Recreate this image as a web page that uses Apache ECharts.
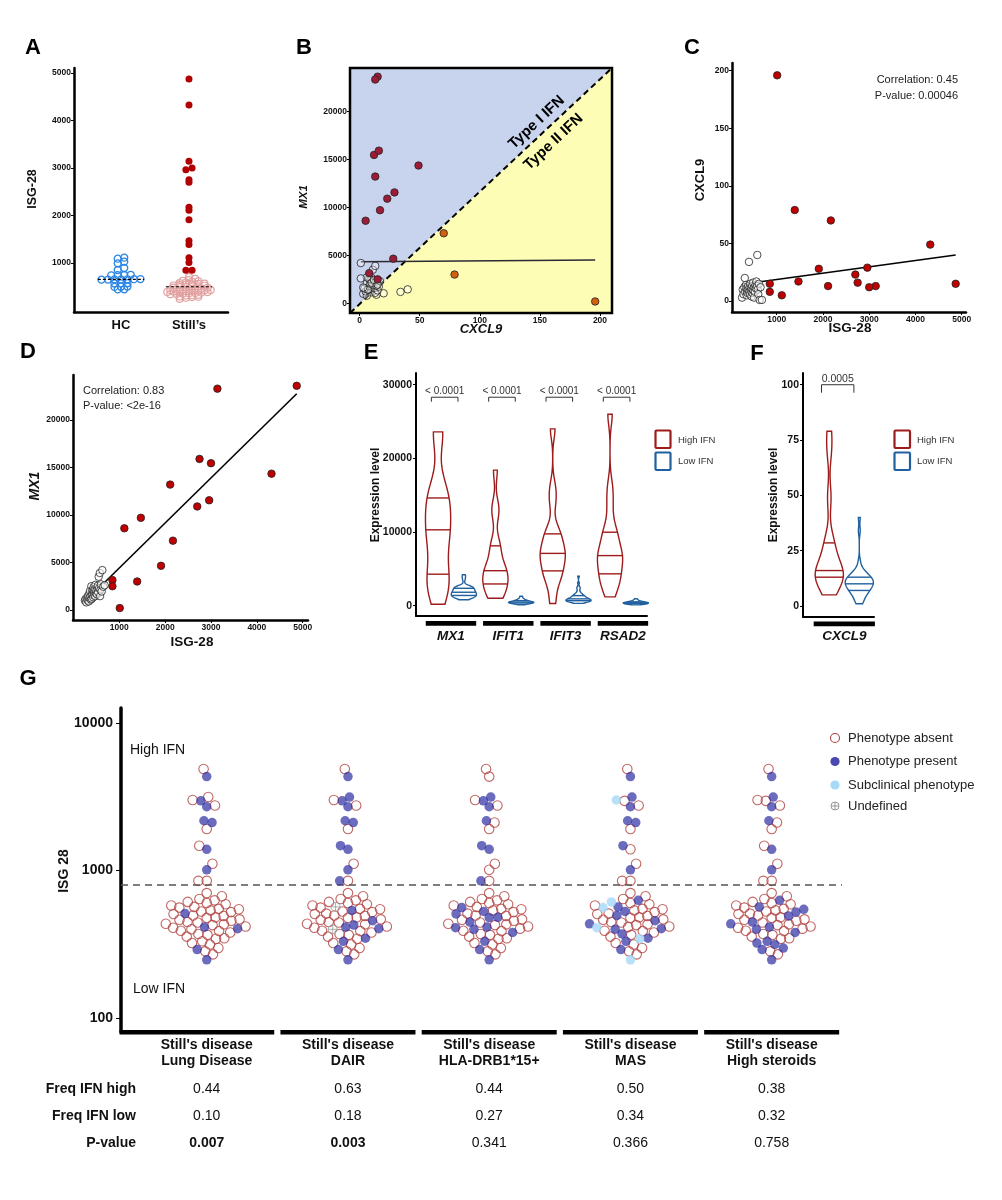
<!DOCTYPE html>
<html>
<head>
<meta charset="utf-8">
<title>ISG-28 figure</title>
<script src="https://cdn.jsdelivr.net/npm/echarts@6.0.0/dist/echarts.min.js"></script>
<style>
html,body{margin:0;padding:0;background:#ffffff;}
#chart{width:1002px;height:1200px;}
</style>
</head>
<body>
<div id="chart"></div>
<script>
// ======================= DATA =======================
// Panel A – ISG-28 score of healthy controls
const hcISG = [1112, 1091, 1028, 993, 895, 853, 752, 748, 745, 741, 662, 660, 658, 656, 655, 652, 650, 575, 572, 570, 505, 502, 498, 448, 445];
// Still's disease, high-IFN patients (ISG-28 with matching MX1 / CXCL9 expression)
const highISG   = [4870, 4320, 3140, 3000, 2960, 2750, 2700, 2170, 2110, 1910, 1470, 1390, 1110, 1010, 850, 850];
const highMX1   = [23600, 14350, 23300, 15450, 11550, 15900, 10900, 7300, 13200, 4650, 9700, 3000, 8600, 200, 3150, 2500];
const highCXCL9 = [15, 49, 13, 12, 29, 16, 23, 70, 13, 28, 17, 79, 5, 196, 8, 15];
const highIFIT1 = [1000, 1200, 2000, 2800, 3000, 3300, 4200, 4700, 4800, 5200, 6500, 8000, 8500, 12500, 13500, 18400];
const highIFIT3 = [300, 2500, 4000, 4500, 4800, 6000, 6800, 7000, 7200, 8000, 9300, 9500, 10500, 14000, 16000, 24000];
const highRSAD2 = [1200, 2500, 3500, 3800, 4500, 5500, 6500, 6700, 6900, 7500, 9000, 9800, 10500, 13500, 16000, 26000];
// Still's disease, low-IFN patients: ISG-28 score (panels A and G)
const lowISG = [248, 270, 283, 291, 298, 315, 322, 331, 344, 347, 356, 366, 371, 380, 388, 390, 399, 403, 409, 413,
                417, 426, 431, 435, 444, 447, 456, 463, 466, 478, 481, 492, 495, 507, 510, 522, 527, 536, 545, 549,
                560, 566, 579, 590, 602, 612, 627, 640, 668, 702];
// Low-IFN patients with gene expression (panels B-F)
const pcrLowISG   = [250, 265, 280, 300, 310, 320, 335, 345, 350, 360, 370, 380, 390, 400, 405, 415, 420, 430, 440, 450,
                     455, 465, 475, 480, 490, 500, 510, 520, 530, 540, 550, 560, 575, 580, 590, 600, 615, 630, 650, 680];
const pcrLowMX1   = [1000, 1150, 800, 1300, 1050, 1500, 900, 1700, 1250, 2000, 1400, 1100, 2500, 1200, 1800, 1600, 2100, 1350, 2400, 1900,
                     1550, 2200, 1450, 2650, 1750, 2050, 1650, 2350, 2550, 1850, 3500, 2300, 3900, 1460, 2150, 2700, 1950, 4200, 2450, 2600];
const pcrLowCXCL9 = [3, 10, 6, 12, 20, 8, 14, 11, 5, 9, 7, 13, 10, 34, 8, 12, 6, 15, 9, 11,
                     4, 13, 7, 10, 16, 9, 3, 12, 8, 14, 11, 17, 13, 40, 10, 6, 15, 1, 12, 1];
const pcrLowIFIT1 = [130, 205, 188, 262, 238, 301, 287, 326, 352, 314, 368, 402, 379, 421, 436, 409, 462, 478, 451, 503,
                     521, 489, 538, 566, 529, 602, 577, 618, 655, 702, 683, 748, 805, 724, 866, 947, 903, 1052, 1176, 1290];
const pcrLowIFIT3 = [318, 452, 401, 523, 478, 561, 604, 583, 648, 702, 617, 721, 684, 763, 798, 741, 853, 902, 818, 951,
                     1004, 877, 1052, 1103, 978, 1198, 1147, 1302, 1251, 1398, 1503, 1352, 1648, 1802, 1597, 2103, 2497, 2402, 3098, 4010];
const pcrLowRSAD2 = [108, 152, 183, 204, 171, 232, 251, 219, 268, 293, 262, 311, 298, 332, 351, 322, 368, 359, 392, 401,
                     383, 418, 441, 409, 462, 479, 452, 503, 518, 488, 553, 579, 602, 561, 641, 678, 722, 781, 852, 948];
// Regression lines and statistics
const fitB = {intercept: 4340, slope: 0.92};
const fitC = {intercept: 13.2, slope: 0.0055};
const fitD = {intercept: -320, slope: 4.74};
const statsC = ['Correlation: 0.45', 'P-value: 0.00046'];
const statsD = ['Correlation: 0.83', 'P-value: <2e-16'];
// Panel E / F
const genesE = ['MX1', 'IFIT1', 'IFIT3', 'RSAD2'];
const pLabelsE = ['< 0.0001', '< 0.0001', '< 0.0001', '< 0.0001'];
const genesF = ['CXCL9'];
const pLabelsF = ['0.0005'];
const groupNames = ['High IFN', 'Low IFN'];
// Panel G
const ifnThreshold = 800;
const gCats = ["Still's disease\nLung Disease", "Still's disease\nDAIR", "Still's disease\nHLA-DRB1*15+", "Still's disease\nMAS", "Still's disease\nHigh steroids"];
const gHighPresent = [[1,4,6,7,8,11,13], [1,2,4,6,7,8,10,11,13,15], [2,4,6,7,10,11,15], [1,2,6,7,8,10,13], [1,2,6,7,11,13]];
const gHighSub     = [[], [], [], [3], []];
const gLowPresent  = [[0,3,17,19,34], [0,3,7,9,17,19,21,26,37], [0,3,7,13,16,18,19,25,29,30,33,36,40],
                      [3,7,9,12,16,17,23,26,32,36,41,46], [0,3,4,5,6,7,13,16,19,23,25,31,35,38,41,46]];
const gLowSub      = [[], [], [], [0,8,18,40,45], []];
const gLowUndef    = [[], [16,41], [], [], []];
const phenoNames = ['Phenotype absent', 'Phenotype present', 'Subclinical phenotype', 'Undefined'];
const freqHigh = ['0.44', '0.63', '0.44', '0.50', '0.38'];
const freqLow  = ['0.10', '0.18', '0.27', '0.34', '0.32'];
const pValues  = ['0.007', '0.003', '0.341', '0.366', '0.758'];
const tableRows = ['Freq IFN high', 'Freq IFN low', 'P-value'];

// ======================= STYLE / LAYOUT =======================
const FONT = "'Liberation Sans', Arial, Helvetica, sans-serif";
const C_HC = '#2b86e6', C_PINK = '#e2a1a1', C_DRED = '#b00000', C_RED = '#c00000';
const C_BRED = '#9c1c37', C_BORANGE = '#d1600f', C_BLUEBG = '#c8d3ed', C_YELBG = '#fdfdb6';
const C_VHIGH = '#9e1b1b', C_VLOW = '#20609f';
const C_ABS = '#b0413e', C_PRES = 'rgba(40,40,160,0.85)', C_SUB = '#a6d9f7', C_UND = '#999999';
const bX = [-8, 210], bY = [-1000, 24500];
const gYMin = Math.log10(80.4), gYMax = Math.log10(12600);

// ======================= HELPERS =======================
function sortNum(a) { return a.slice().sort((x, y) => x - y); }
function quantile(s, p) { const h = (s.length - 1) * p, lo = Math.floor(h), hi = Math.ceil(h); return s[lo] + (h - lo) * (s[hi] - s[lo]); }
function median(a) { return quantile(sortNum(a), 0.5); }
function sdev(a) { const m = a.reduce((s, v) => s + v, 0) / a.length; return Math.sqrt(a.reduce((s, v) => s + (v - m) * (v - m), 0) / (a.length - 1)); }
function bwNrd0(a) {
  const s = sortNum(a); const iqr = quantile(s, 0.75) - quantile(s, 0.25);
  let lo = Math.min(sdev(a), iqr / 1.34); if (!(lo > 0)) lo = sdev(a) || 1;
  return 0.9 * lo * Math.pow(a.length, -0.2);
}
function violinShape(vals, adjust, color) {
  const s = sortNum(vals), bw = bwNrd0(vals) * adjust, n = 90, lo = s[0], hi = s[s.length - 1];
  const ys = [], ds = [];
  for (let k = 0; k < n; k++) {
    const y = lo + (hi - lo) * k / (n - 1); let d = 0;
    s.forEach(v => { const z = (y - v) / bw; d += Math.exp(-0.5 * z * z); });
    ys.push(y); ds.push(d);
  }
  const mx = Math.max.apply(null, ds); const ws = ds.map(d => d / mx);
  const qs = [0.25, 0.5, 0.75].map(p => {
    const y = quantile(s, p); const f = (y - lo) / (hi - lo) * (n - 1);
    const k = Math.max(0, Math.min(n - 2, Math.floor(f))); const t = f - k;
    return {y: y, w: ws[k] * (1 - t) + ws[k + 1] * t};
  });
  return {ys: ys, ws: ws, qs: qs, color: color};
}
function dotOffsets(vals, bw, gap) {
  const order = vals.map((v, i) => i).sort((a, b) => vals[a] - vals[b]);
  const out = new Array(vals.length).fill(0); let k = 0;
  while (k < order.length) {
    const start = vals[order[k]], bin = [];
    while (k < order.length && vals[order[k]] - start < bw) { bin.push(order[k]); k++; }
    bin.forEach((id, j) => { out[id] = (j - (bin.length - 1) / 2) * gap; });
  }
  return out;
}
function swarmOffsets(ys, d) {
  const order = ys.map((y, i) => i).sort((a, b) => ys[b] - ys[a] || a - b);
  const placed = [], xs = new Array(ys.length).fill(0); let side = 1;
  order.forEach(i => {
    const y = ys[i];
    const near = placed.filter(p => Math.abs(p.y - y) < d);
    const cands = [0];
    near.forEach(p => { const dx = Math.sqrt(d * d - (p.y - y) * (p.y - y)); cands.push(p.x + dx, p.x - dx); });
    const key = c => Math.abs(c) + (c * side < 0 ? 1e-6 : 0);
    cands.sort((a, b) => key(a) - key(b));
    let best = 0;
    for (const c of cands) {
      if (near.every(p => (p.x - c) * (p.x - c) + (p.y - y) * (p.y - y) >= d * d - 1e-3)) { best = c; break; }
    }
    if (Math.abs(best) > 1e-6) side = best > 0 ? -1 : 1;
    xs[i] = best; placed.push({x: best, y: y});
  });
  return xs;
}
function valAxis(gi, min, max, ticks, o) {
  o = o || {};
  const lab = {show: true, customValues: ticks, fontSize: o.fs || 8.5, fontWeight: o.fw || 'bold', fontStyle: o.fst || 'normal',
               color: '#111', margin: o.margin == null ? 3 : o.margin, fontFamily: FONT,
               formatter: o.fmt || (v => String(v))};
  if (o.lh) lab.lineHeight = o.lh;
  return {
    type: 'value', gridIndex: gi, min: min, max: max,
    axisLine: {show: o.line !== false, onZero: false, lineStyle: {color: '#000', width: o.lw || 2.5}},
    axisTick: {show: o.tick !== false, length: o.tickLen || 3, customValues: ticks, lineStyle: {color: '#000', width: 1}},
    axisLabel: lab, splitLine: {show: false}, splitArea: {show: false}
  };
}
function gtext(x, y, text, o) {
  o = o || {};
  return {type: 'text', x: x, y: y, rotation: o.rot || 0, silent: true, z: 100,
    style: {text: text, fill: o.color || '#111', fontSize: o.size || 12, fontWeight: o.weight || 'normal',
            fontStyle: o.style || 'normal', fontFamily: FONT, textAlign: o.align || 'center', textVerticalAlign: o.valign || 'middle'}};
}
function fitLine(fit, xs) {
  const lo = Math.min.apply(null, xs), hi = Math.max.apply(null, xs);
  return [[lo, fit.intercept + fit.slope * lo], [hi, fit.intercept + fit.slope * hi]];
}
function lineSeries(gi, data, color, width) {
  return {type: 'line', xAxisIndex: gi, yAxisIndex: gi, data: data, symbol: 'none', silent: true,
          lineStyle: {color: color, width: width}, z: 3};
}
function scat(id, gi, data, size, fill, stroke, bw, z) {
  return {id: id, type: 'scatter', xAxisIndex: gi, yAxisIndex: gi, data: data, symbol: 'circle', symbolSize: size, silent: true,
          itemStyle: {color: fill, borderColor: stroke, borderWidth: bw, opacity: 1}, z: z || 4};
}
function makeViolinRenderer(shapes, halfW) {
  return function (params, api) {
    const sh = shapes[api.value(1)], cx = api.value(0);
    const L = [], R = [];
    for (let k = 0; k < sh.ys.length; k++) {
      L.push(api.coord([cx - sh.ws[k] * halfW, sh.ys[k]]));
      R.push(api.coord([cx + sh.ws[k] * halfW, sh.ys[k]]));
    }
    const children = [{type: 'polygon', shape: {points: L.concat(R.reverse())}, style: {fill: '#ffffff', stroke: sh.color, lineWidth: 1.4}}];
    sh.qs.forEach(q => {
      const a = api.coord([cx - q.w * halfW, q.y]), b = api.coord([cx + q.w * halfW, q.y]);
      children.push({type: 'line', shape: {x1: a[0], y1: a[1], x2: b[0], y2: b[1]}, style: {stroke: sh.color, lineWidth: 1.4}});
    });
    return {type: 'group', children: children};
  };
}
function makeBracketRenderer(labels, yVal, half, shift, tip, fs) {
  return function (params, api) {
    const i = api.value(0);
    const a = api.coord([i - half + shift, yVal]), b = api.coord([i + half + shift, yVal]);
    return {type: 'group', children: [
      {type: 'polyline', shape: {points: [[a[0], a[1] + tip], a, b, [b[0], b[1] + tip]]}, style: {stroke: '#333', lineWidth: 1, fill: null}},
      {type: 'text', x: (a[0] + b[0]) / 2, y: a[1] - 0.5, style: {text: labels[i - 1], fill: '#333', fontSize: fs, fontFamily: FONT, textAlign: 'center', textVerticalAlign: 'bottom'}}
    ]};
  };
}
function makeStripRenderer(half, dy, h, firstToAxis) {
  return function (params, api) {
    const i = api.value(0), cs = params.coordSys;
    const yb = cs.y + cs.height;
    let x0 = api.coord([i - half, 0])[0]; const x1 = api.coord([i + half, 0])[0];
    if (firstToAxis && i === 1) x0 = cs.x - 1.5;
    return {type: 'rect', shape: {x: x0, y: yb + dy, width: x1 - x0, height: h}, style: {fill: '#000'}};
  };
}

// ======================= DERIVED =======================
const stillsISG = highISG.concat(lowISG);
const bPairsHigh = highCXCL9.map((c, i) => [c, highMX1[i]]);
const bAbove = (c, m) => (m - bY[0]) / (bY[1] - bY[0]) > (c - bX[0]) / (bX[1] - bX[0]);
const eHighSets = [highMX1, highIFIT1, highIFIT3, highRSAD2];
const eLowSets = [pcrLowMX1, pcrLowIFIT1, pcrLowIFIT3, pcrLowRSAD2];
const eShapes = [], eViolinData = [];
genesE.forEach((g, i) => {
  eShapes.push(violinShape(eHighSets[i], 0.7, C_VHIGH)); eViolinData.push([i + 1 - 0.225, eShapes.length - 1]);
  eShapes.push(violinShape(eLowSets[i], 0.8, C_VLOW)); eViolinData.push([i + 1 + 0.225, eShapes.length - 1]);
});
const fMax = 105.3;
const fShapes = [violinShape(highCXCL9.filter(v => v <= fMax), 1, C_VHIGH), violinShape(pcrLowCXCL9.filter(v => v <= fMax), 1, C_VLOW)];
const gAll = highISG.concat(lowISG);
function phenoCode(gi, p) {
  if (p < highISG.length) {
    if (gHighSub[gi].indexOf(p) >= 0) return 2;
    if (gHighPresent[gi].indexOf(p) >= 0) return 1;
    return 0;
  }
  const q = p - highISG.length;
  if (gLowUndef[gi].indexOf(q) >= 0) return 3;
  if (gLowSub[gi].indexOf(q) >= 0) return 2;
  if (gLowPresent[gi].indexOf(q) >= 0) return 1;
  return 0;
}
function gSeriesData(offUnits) {
  const out = [[], [], [], []];
  gCats.forEach((c, gi) => {
    gAll.forEach((v, p) => { out[phenoCode(gi, p)].push([gi + 1 + offUnits[p], Math.log10(v)]); });
  });
  return out;
}
const gInit = gSeriesData(gAll.map(() => 0));
const undefPath = 'path://M10,0A10,10,0,1,1,10,20A10,10,0,1,1,10,0ZM0,10L20,10M10,0L10,20';

// ======================= OPTION =======================
const option = {
  animation: false,
  backgroundColor: '#ffffff',
  textStyle: {fontFamily: FONT},
  grid: [
    {left: 74, top: 68, width: 154, height: 244},
    {left: 350, top: 68, width: 262, height: 245},
    {left: 732, top: 63, width: 234, height: 249},
    {left: 73, top: 375, width: 235, height: 245},
    {left: 416, top: 373, width: 231, height: 243},
    {left: 803, top: 373, width: 71, height: 244},
    {left: 121, top: 708, width: 721, height: 324}
  ],
  xAxis: [
    valAxis(0, 0.309, 2.574, [1, 2], {tick: false, fs: 13, margin: 7, fmt: v => ['HC', 'Still\u2019s'][Math.round(v) - 1]}),
    valAxis(1, bX[0], bX[1], [0, 50, 100, 150, 200], {line: false}),
    valAxis(2, 33, 5093, [1000, 2000, 3000, 4000, 5000]),
    valAxis(3, -10, 5116, [1000, 2000, 3000, 4000, 5000]),
    valAxis(4, 0.39, 4.42, [1, 2, 3, 4], {tick: false, lw: 2, fs: 13.5, fst: 'italic', margin: 13, fmt: v => genesE[Math.round(v) - 1]}),
    valAxis(5, 0.312, 1.495, [1], {tick: false, lw: 2, fs: 13.5, fst: 'italic', margin: 12, fmt: v => genesF[Math.round(v) - 1]}),
    valAxis(6, 0.393, 5.498, [1, 2, 3, 4, 5], {line: false, tick: false, fs: 14, margin: 5, lh: 16, fmt: v => gCats[Math.round(v) - 1]})
  ],
  yAxis: [
    valAxis(0, -30, 5100, [1000, 2000, 3000, 4000, 5000]),
    valAxis(1, bY[0], bY[1], [0, 5000, 10000, 15000, 20000], {line: false}),
    valAxis(2, -9.5, 206.7, [0, 50, 100, 150, 200]),
    valAxis(3, -1053, 24737, [0, 5000, 10000, 15000, 20000]),
    valAxis(4, -1400, 31590, [0, 10000, 20000, 30000], {lw: 2, fs: 10.5, margin: 4}),
    valAxis(5, -5, fMax, [0, 25, 50, 75, 100], {lw: 2, fs: 10.5, margin: 4}),
    valAxis(6, gYMin, gYMax, [2, 3, 4], {lw: 3.5, fs: 14, margin: 8, tickLen: 5, fmt: v => String(Math.round(Math.pow(10, v)))})
  ],
  series: [
    // ---- A ----
    scat('aHC', 0, hcISG.map(v => [1, v]), 7, 'rgba(255,255,255,0)', C_HC, 1.3),
    scat('aLow', 0, lowISG.map(v => [2, v]), 7, 'rgba(255,255,255,0)', C_PINK, 1.2),
    scat('aHigh', 0, highISG.map(v => [2, v]), 7, C_DRED, C_DRED, 0),
    {type: 'custom', xAxisIndex: 0, yAxisIndex: 0, silent: true, z: 6, data: [[1, median(hcISG)], [2, median(stillsISG)]],
     renderItem: (params, api) => {
       const a = api.coord([api.value(0) - 0.34, api.value(1)]), b = api.coord([api.value(0) + 0.34, api.value(1)]);
       return {type: 'line', shape: {x1: a[0], y1: a[1], x2: b[0], y2: b[1]}, style: {stroke: '#000', lineWidth: 1.2, lineDash: [3, 2]}};
     }},
    // ---- B ----
    {type: 'custom', xAxisIndex: 1, yAxisIndex: 1, silent: true, z: 1, data: [[0, 0]],
     renderItem: (params, api) => {
       const cs = params.coordSys, x0 = cs.x, y0 = cs.y, x1 = cs.x + cs.width, y1 = cs.y + cs.height;
       const ang = Math.atan2(cs.height, cs.width);
       const at = (t, off) => [x0 + t * cs.width + off * Math.sin(ang), y1 - t * cs.height + off * Math.cos(ang)];
       const p1 = at(0.743, -11.8), p2 = at(0.74, 14);
       return {type: 'group', children: [
         {type: 'polygon', shape: {points: [[x0, y1], [x0, y0], [x1, y0]]}, style: {fill: C_BLUEBG}},
         {type: 'polygon', shape: {points: [[x0, y1], [x1, y1], [x1, y0]]}, style: {fill: C_YELBG}},
         {type: 'line', shape: {x1: x0, y1: y1, x2: x1, y2: y0}, style: {stroke: '#000', lineWidth: 2, lineDash: [6, 4]}},
         {type: 'text', x: p1[0], y: p1[1], rotation: ang, style: {text: 'Type I IFN', fill: '#000', fontSize: 15, fontWeight: 'bold', fontFamily: FONT, textAlign: 'center', textVerticalAlign: 'middle'}},
         {type: 'text', x: p2[0], y: p2[1], rotation: ang, style: {text: 'Type II IFN', fill: '#000', fontSize: 15, fontWeight: 'bold', fontFamily: FONT, textAlign: 'center', textVerticalAlign: 'middle'}}
       ]};
     }},
    lineSeries(1, fitLine(fitB, highCXCL9.concat(pcrLowCXCL9)), '#2a2a33', 1.6),
    scat('bLow', 1, pcrLowCXCL9.map((c, i) => [c, pcrLowMX1[i]]), 7.5, 'rgba(255,255,255,0.35)', '#222', 0.8),
    scat('bType1', 1, bPairsHigh.filter(p => bAbove(p[0], p[1])), 7.5, C_BRED, '#222', 0.8),
    scat('bType2', 1, bPairsHigh.filter(p => !bAbove(p[0], p[1])), 7.5, C_BORANGE, '#222', 0.8),
    {type: 'custom', xAxisIndex: 1, yAxisIndex: 1, silent: true, z: 8, data: [[0, 0]],
     renderItem: (params) => {
       const cs = params.coordSys;
       return {type: 'rect', shape: {x: cs.x, y: cs.y, width: cs.width, height: cs.height}, style: {fill: null, stroke: '#000', lineWidth: 2.5}};
     }},
    // ---- C ----
    lineSeries(2, fitLine(fitC, highISG.concat(pcrLowISG)), '#000', 1.6),
    scat('cLow', 2, pcrLowISG.map((v, i) => [v, pcrLowCXCL9[i]]), 7.5, 'rgba(255,255,255,0.6)', '#222', 0.8),
    scat('cHigh', 2, highISG.map((v, i) => [v, highCXCL9[i]]), 7.5, C_RED, '#222', 0.8),
    // ---- D ----
    lineSeries(3, fitLine(fitD, highISG.concat(pcrLowISG)), '#000', 1.6),
    scat('dLow', 3, pcrLowISG.map((v, i) => [v, pcrLowMX1[i]]), 7.5, 'rgba(255,255,255,0.6)', '#222', 0.8),
    scat('dHigh', 3, highISG.map((v, i) => [v, highMX1[i]]), 7.5, C_RED, '#222', 0.8),
    // ---- E ----
    {type: 'custom', xAxisIndex: 4, yAxisIndex: 4, silent: true, z: 3, data: eViolinData, renderItem: makeViolinRenderer(eShapes, 0.22)},
    {type: 'custom', xAxisIndex: 4, yAxisIndex: 4, silent: true, z: 3, data: genesE.map((g, i) => [i + 1]), renderItem: makeBracketRenderer(pLabelsE, 28300, 0.232, -0.11, 4.5, 10)},
    {type: 'custom', xAxisIndex: 4, yAxisIndex: 4, silent: true, z: 3, data: genesE.map((g, i) => [i + 1]), renderItem: makeStripRenderer(0.44, 5, 4.8, false)},
    // ---- F ----
    {type: 'custom', xAxisIndex: 5, yAxisIndex: 5, silent: true, z: 3, data: [[1 - 0.25, 0], [1 + 0.25, 1]], renderItem: makeViolinRenderer(fShapes, 0.235)},
    {type: 'custom', xAxisIndex: 5, yAxisIndex: 5, silent: true, z: 3, data: [[1]], renderItem: makeBracketRenderer(pLabelsF, 100, 0.27, -0.11, 8, 10.5)},
    {type: 'custom', xAxisIndex: 5, yAxisIndex: 5, silent: true, z: 3, data: [[1]], renderItem: makeStripRenderer(0.51, 4.5, 4.8, false)},
    // ---- G ----
    {id: 'gAbs', type: 'scatter', xAxisIndex: 6, yAxisIndex: 6, data: gInit[0], symbol: 'circle', symbolSize: 9.5, silent: true, z: 4,
     itemStyle: {color: 'rgba(255,255,255,0)', borderColor: C_ABS, borderWidth: 1.1},
     markLine: {silent: true, symbol: ['none', 'none'], label: {show: false}, animation: false,
                lineStyle: {color: '#555', type: [7, 5], width: 1.5}, data: [{yAxis: Math.log10(ifnThreshold)}]}},
    {id: 'gPres', type: 'scatter', xAxisIndex: 6, yAxisIndex: 6, data: gInit[1], symbol: 'circle', symbolSize: 9.5, silent: true, z: 5,
     itemStyle: {color: C_PRES, borderWidth: 0}},
    {id: 'gSub', type: 'scatter', xAxisIndex: 6, yAxisIndex: 6, data: gInit[2], symbol: 'circle', symbolSize: 9.5, silent: true, z: 5,
     itemStyle: {color: C_SUB, borderWidth: 0}},
    {id: 'gUnd', type: 'scatter', xAxisIndex: 6, yAxisIndex: 6, data: gInit[3], symbol: undefPath, symbolSize: 9, silent: true, z: 6,
     itemStyle: {color: 'rgba(255,255,255,0)', borderColor: C_UND, borderWidth: 1}},
    {type: 'custom', xAxisIndex: 6, yAxisIndex: 6, silent: true, z: 3, data: gCats.map((c, i) => [i + 1]), renderItem: makeStripRenderer(0.478, -2, 4.5, true)},
    {type: 'custom', xAxisIndex: 6, yAxisIndex: 6, silent: true, z: 3, data: gCats.map((c, i) => [i + 1]),
     renderItem: (params, api) => {
       const i = api.value(0), x = api.coord([i, gYMin])[0], y0 = params.coordSys.y + params.coordSys.height;
       const vals = [freqHigh[i - 1], freqLow[i - 1], pValues[i - 1]];
       return {type: 'group', children: vals.map((t, r) => ({type: 'text', x: x, y: y0 + 57 + r * 27,
         style: {text: t, fill: '#111', fontSize: 14, fontFamily: FONT, fontWeight: (r === 2 && parseFloat(t) < 0.05) ? 'bold' : 'normal', textAlign: 'center', textVerticalAlign: 'middle'}}))};
     }}
  ],
  graphic: {elements: [
    // panel letters
    gtext(33, 48, 'A', {size: 22, weight: 'bold', color: '#000'}),
    gtext(304, 48, 'B', {size: 22, weight: 'bold', color: '#000'}),
    gtext(692, 48, 'C', {size: 22, weight: 'bold', color: '#000'}),
    gtext(28, 352, 'D', {size: 22, weight: 'bold', color: '#000'}),
    gtext(371, 353, 'E', {size: 22, weight: 'bold', color: '#000'}),
    gtext(757, 354, 'F', {size: 22, weight: 'bold', color: '#000'}),
    gtext(28, 679, 'G', {size: 22, weight: 'bold', color: '#000'}),
    // axis titles
    gtext(33, 189, 'ISG-28', {size: 12.5, weight: 'bold', rot: Math.PI / 2}),
    gtext(304, 197, 'MX1', {size: 11.5, weight: 'bold', style: 'italic', rot: Math.PI / 2}),
    gtext(481, 329, 'CXCL9', {size: 13, weight: 'bold', style: 'italic'}),
    gtext(700, 180, 'CXCL9', {size: 13, weight: 'bold', rot: Math.PI / 2}),
    gtext(850, 328, 'ISG-28', {size: 13.5, weight: 'bold'}),
    gtext(35, 486, 'MX1', {size: 14, weight: 'bold', style: 'italic', rot: Math.PI / 2}),
    gtext(192, 642, 'ISG-28', {size: 13.5, weight: 'bold'}),
    gtext(376, 495, 'Expression level', {size: 12, weight: 'bold', rot: Math.PI / 2}),
    gtext(774, 495, 'Expression level', {size: 12, weight: 'bold', rot: Math.PI / 2}),
    gtext(64, 871, 'ISG 28', {size: 14, weight: 'bold', rot: Math.PI / 2}),
    // correlation statistics
    gtext(958, 80, statsC[0], {size: 11, color: '#222', align: 'right'}),
    gtext(958, 95.5, statsC[1], {size: 11, color: '#222', align: 'right'}),
    gtext(83, 391, statsD[0], {size: 11, color: '#222', align: 'left'}),
    gtext(83, 406, statsD[1], {size: 11, color: '#222', align: 'left'}),
    // E legend
    {type: 'rect', shape: {x: 655.5, y: 430.5, width: 15, height: 17.5, r: 1}, style: {fill: null, stroke: C_VHIGH, lineWidth: 2.2}, silent: true},
    {type: 'rect', shape: {x: 655.5, y: 452.5, width: 15, height: 17.5, r: 1}, style: {fill: null, stroke: C_VLOW, lineWidth: 2.2}, silent: true},
    gtext(678, 440, groupNames[0], {size: 9.5, color: '#333', align: 'left'}),
    gtext(678, 461.5, groupNames[1], {size: 9.5, color: '#333', align: 'left'}),
    // F legend
    {type: 'rect', shape: {x: 894.5, y: 430.5, width: 15.5, height: 17.5, r: 1}, style: {fill: null, stroke: C_VHIGH, lineWidth: 2.2}, silent: true},
    {type: 'rect', shape: {x: 894.5, y: 452.5, width: 15.5, height: 17.5, r: 1}, style: {fill: null, stroke: C_VLOW, lineWidth: 2.2}, silent: true},
    gtext(917, 440, groupNames[0], {size: 9.5, color: '#333', align: 'left'}),
    gtext(917, 461.5, groupNames[1], {size: 9.5, color: '#333', align: 'left'}),
    // G annotations
    gtext(130, 750, 'High IFN', {size: 14, align: 'left'}),
    gtext(133, 989, 'Low IFN', {size: 14, align: 'left'}),
    // G legend
    {type: 'circle', shape: {cx: 835, cy: 738, r: 4.5}, style: {fill: null, stroke: C_ABS, lineWidth: 1.1}, silent: true},
    {type: 'circle', shape: {cx: 835, cy: 761.5, r: 4.6}, style: {fill: C_PRES}, silent: true},
    {type: 'circle', shape: {cx: 835, cy: 785, r: 4.6}, style: {fill: C_SUB}, silent: true},
    {type: 'circle', shape: {cx: 835, cy: 806, r: 4}, style: {fill: null, stroke: C_UND, lineWidth: 1}, silent: true},
    {type: 'line', shape: {x1: 831, y1: 806, x2: 839, y2: 806}, style: {stroke: C_UND, lineWidth: 1}, silent: true},
    {type: 'line', shape: {x1: 835, y1: 802, x2: 835, y2: 810}, style: {stroke: C_UND, lineWidth: 1}, silent: true},
    gtext(848, 738, phenoNames[0], {size: 13, color: '#222', align: 'left'}),
    gtext(848, 761.5, phenoNames[1], {size: 13, color: '#222', align: 'left'}),
    gtext(848, 785, phenoNames[2], {size: 13, color: '#222', align: 'left'}),
    gtext(848, 806, phenoNames[3], {size: 13, color: '#222', align: 'left'}),
    // table row labels
    gtext(136, 1089, tableRows[0], {size: 14, weight: 'bold', align: 'right'}),
    gtext(136, 1116, tableRows[1], {size: 14, weight: 'bold', align: 'right'}),
    gtext(136, 1143, tableRows[2], {size: 14, weight: 'bold', align: 'right'})
  ]}
};

const chart = echarts.init(document.getElementById('chart'), null, {width: 1002, height: 1200, renderer: 'canvas'});
chart.setOption(option);

// ---- second pass: dot-plot / beeswarm offsets computed in pixel space ----
(function layoutSwarms() {
  const a0 = chart.convertToPixel({gridIndex: 0}, [0, 0]), a1 = chart.convertToPixel({gridIndex: 0}, [1, 0]);
  const pxA = a1[0] - a0[0];
  const hcOff = dotOffsets(hcISG, 45, 6.5);
  const stOff = dotOffsets(stillsISG, 45, 6.2);
  const nH = highISG.length;
  const g0 = chart.convertToPixel({gridIndex: 6}, [0, gYMin]), g1 = chart.convertToPixel({gridIndex: 6}, [1, gYMin]);
  const pxG = g1[0] - g0[0];
  const gPy = gAll.map(v => chart.convertToPixel({gridIndex: 6}, [1, Math.log10(v)])[1]);
  const gOff = swarmOffsets(gPy, 8.3).map(o => o / pxG);
  const gData = gSeriesData(gOff);
  chart.setOption({series: [
    {id: 'aHC', data: hcISG.map((v, i) => [1 + hcOff[i] / pxA, v])},
    {id: 'aLow', data: lowISG.map((v, i) => [2 + stOff[nH + i] / pxA, v])},
    {id: 'aHigh', data: highISG.map((v, i) => [2 + stOff[i] / pxA, v])},
    {id: 'gAbs', data: gData[0]},
    {id: 'gPres', data: gData[1]},
    {id: 'gSub', data: gData[2]},
    {id: 'gUnd', data: gData[3]}
  ]});
})();
</script>
</body>
</html>
